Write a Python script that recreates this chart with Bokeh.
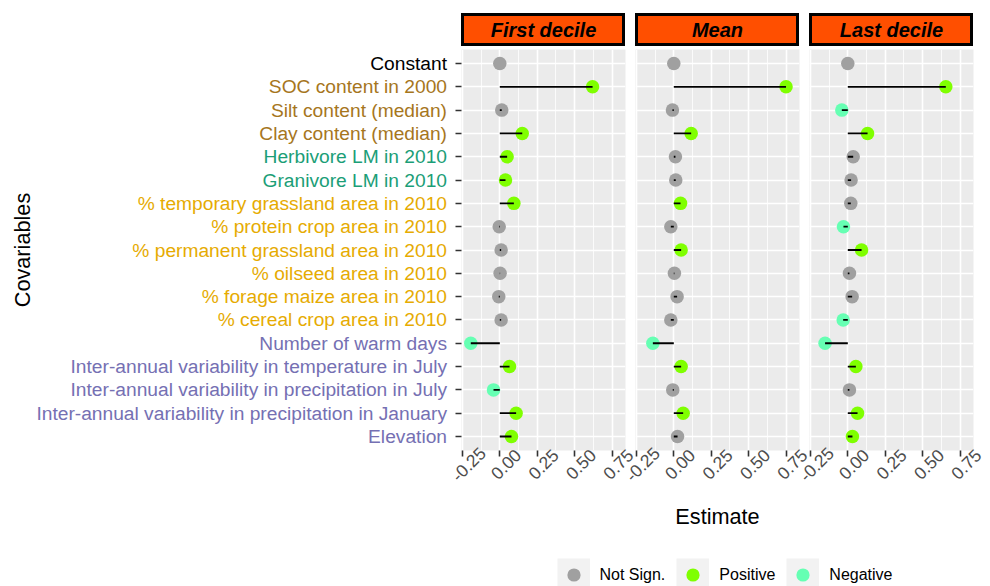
from math import pi
from bokeh.plotting import figure
from bokeh.models import (ColumnDataSource, FactorRange, Range1d, FixedTicker,
                          Legend, LegendItem, Spacer, CustomJSTickFormatter)
from bokeh.layouts import row, column
from bokeh.transform import factor_cmap
from bokeh.core.properties import value
from bokeh.embed import file_html
from bokeh.resources import INLINE

# ---------------- data ----------------
covariables = [
    "Constant",
    "SOC content in 2000",
    "Silt content (median)",
    "Clay content (median)",
    "Herbivore LM in 2010",
    "Granivore LM in 2010",
    "% temporary grassland area in 2010",
    "% protein crop area in 2010",
    "% permanent grassland area in 2010",
    "% oilseed area in 2010",
    "% forage maize area in 2010",
    "% cereal crop area in 2010",
    "Number of warm days",
    "Inter-annual variability in temperature in July",
    "Inter-annual variability in precipitation in July",
    "Inter-annual variability in precipitation in January",
    "Elevation",
]
label_groups = ["const", "soil", "soil", "soil", "lm", "lm",
                "land", "land", "land", "land", "land", "land",
                "climate", "climate", "climate", "climate", "climate"]
group_colors = {"const": "#000000", "soil": "#A6761D", "lm": "#1B9E77",
                "land": "#E6AB02", "climate": "#7570B3"}

panels = ["First decile", "Mean", "Last decile"]

est_first = [0.0, 0.62, 0.013, 0.15, 0.049, 0.038, 0.094, -0.004, 0.009,
             0.002, -0.007, 0.009, -0.194, 0.065, -0.042, 0.109, 0.078]
est_mean = [0.0, 0.75, -0.009, 0.116, 0.011, 0.013, 0.045, -0.02, 0.049,
            0.004, 0.022, -0.02, -0.14, 0.049, -0.007, 0.0625, 0.025]
est_last = [0.0, 0.655, -0.04, 0.132, 0.036, 0.022, 0.02, -0.029, 0.092,
            0.011, 0.029, -0.031, -0.152, 0.054, 0.011, 0.065, 0.031]

sig_first = ["Not Sign.", "Positive", "Not Sign.", "Positive", "Positive", "Positive",
             "Positive", "Not Sign.", "Not Sign.", "Not Sign.", "Not Sign.", "Not Sign.",
             "Negative", "Positive", "Negative", "Positive", "Positive"]
sig_mean = ["Not Sign.", "Positive", "Not Sign.", "Positive", "Not Sign.", "Not Sign.",
            "Positive", "Not Sign.", "Positive", "Not Sign.", "Not Sign.", "Not Sign.",
            "Negative", "Positive", "Not Sign.", "Positive", "Not Sign."]
sig_last = ["Not Sign.", "Positive", "Negative", "Positive", "Not Sign.", "Not Sign.",
            "Not Sign.", "Negative", "Positive", "Not Sign.", "Not Sign.", "Negative",
            "Negative", "Positive", "Not Sign.", "Positive", "Positive"]

sig_levels = ["Not Sign.", "Positive", "Negative"]
sig_colors = ["#A0A0A0", "#7FFF00", "#66FFB3"]

x_ticks = [-0.25, 0.0, 0.25, 0.5, 0.75]
x_tick_labels = ["-0.25", "0.00", "0.25", "0.50", "0.75"]
x_minor = [-0.125, 0.125, 0.375, 0.625]
x_limits = (-0.256, 0.84)

# ---------------- layout constants ----------------
FONT = "Liberation Sans"
PW = 164          # panel frame width
PH = 401          # panel frame height
B1 = 20           # room under frames for the tick marks
ML = 45           # left overflow room of panel canvases
MR = 12
LABW = 461
GAP = 10
H2 = 86           # tick-label / axis-title band
LEGH = 56
PAD = 0.1         # ggplot-like discrete expansion (in category units)

yr = FactorRange(factors=covariables[::-1], range_padding=PAD,
                 range_padding_units="absolute")

tick_src = ColumnDataSource(dict(tick=x_ticks, label=x_tick_labels))


def style_ticks(ax):
    ax.major_tick_out = 6
    ax.major_tick_in = 0
    ax.major_tick_line_color = "#333333"
    ax.major_tick_line_width = 1.6
    ax.minor_tick_line_color = None
    ax.axis_line_color = None
    ax.major_label_standoff = 0


def make_panel(k, est, sig):
    src = ColumnDataSource(dict(cov=covariables, est=est, sig=sig))
    p = figure(width=ML + PW + MR, height=PH + B1,
               x_range=Range1d(*x_limits), y_range=yr,
               output_backend="svg", toolbar_location=None,
               min_border_left=ML, min_border_right=MR, min_border_top=0,
               min_border_bottom=B1, border_fill_color=None,
               outline_line_color=None, background_fill_color="#EBEBEB")
    p.title.visible = False
    xa = p.xaxis[0]
    xa.ticker = FixedTicker(ticks=x_ticks, minor_ticks=x_minor)
    xa.major_label_overrides = {t: "" for t in x_ticks}
    style_ticks(xa)
    ya = p.yaxis[0]
    if k == 0:
        # tick marks only: the coloured names are drawn in the label figure
        ya.formatter = CustomJSTickFormatter(code="return ''")
        style_ticks(ya)
    else:
        ya.visible = False
    p.xgrid.grid_line_color = "white"
    p.xgrid.grid_line_width = 1.6
    p.xgrid.minor_grid_line_color = "white"
    p.xgrid.minor_grid_line_width = 0.8
    p.ygrid.grid_line_color = "white"
    p.ygrid.grid_line_width = 1.6
    p.scatter("est", "cov", source=src, size=13.5, line_color=None,
              fill_color=factor_cmap("sig", sig_colors, sig_levels))
    p.segment(x0=0, y0="cov", x1="est", y1="cov", source=src,
              line_color="black", line_width=1.8)
    return p


def make_tickband(k):
    upp = (x_limits[1] - x_limits[0]) / PW
    t = figure(width=ML + PW + MR, height=H2,
               x_range=Range1d(x_limits[0] - ML * upp, x_limits[1] + MR * upp),
               y_range=Range1d(0, H2),
               output_backend="svg", toolbar_location=None, min_border=0,
               x_axis_location=None, y_axis_location=None,
               outline_line_color=None, border_fill_color=None,
               background_fill_color=None)
    t.title.visible = False
    t.grid.visible = False
    # rotated tick labels, centred on their ticks (ggplot style)
    t.text(x="tick", y=H2 - 19.5, text="label", source=tick_src, angle=pi / 4,
           x_offset=6, text_align="center", text_baseline="middle",
           text_font=value(FONT), text_font_size="17.5px", text_color="#4D4D4D")
    if k == 1:
        t.text(x=[sum(x_limits) / 2], y=[H2 - 71.5], text=["Estimate"],
               text_align="center", text_baseline="middle",
               text_font=value(FONT), text_font_size="21.7px",
               text_color="black")
    return t


def make_strip(k):
    s = figure(width=PW, height=33, x_range=Range1d(0, 1), y_range=Range1d(0, 1),
               output_backend="svg", toolbar_location=None, min_border=0,
               x_axis_location=None, y_axis_location=None,
               background_fill_color="#FF4F00", outline_line_color="black",
               outline_line_width=5, border_fill_color=None)
    s.title.visible = False
    s.grid.visible = False
    s.text(x=[0.5], y=[0.5], text=[panels[k]], text_align="center",
           text_baseline="middle", text_font=value(FONT), text_font_size="20px",
           text_font_style="bold italic", text_color="black")
    return s


# label figure (coloured covariable names)
lf = figure(width=LABW, height=PH + B1, x_range=Range1d(0, LABW), y_range=yr,
            output_backend="svg", toolbar_location=None, min_border=0,
            min_border_bottom=B1,
            x_axis_location=None, y_axis_location=None,
            outline_line_color=None, background_fill_color=None,
            border_fill_color=None)
lf.title.visible = False
lf.grid.visible = False
lsrc = ColumnDataSource(dict(cov=covariables,
                             color=[group_colors[g] for g in label_groups]))
lf.text(x=446.5, y="cov", text="cov", source=lsrc, text_align="right",
        text_baseline="middle", text_font=value(FONT), text_font_size="19.2px",
        text_color="color")
lf.text(x=[22], y=[covariables[8]], text=["Covariables"], angle=pi / 2,
        text_align="center", text_baseline="middle", text_font=value(FONT),
        text_font_size="21.7px", text_color="black")

p1 = make_panel(0, est_first, sig_first)
p2 = make_panel(1, est_mean, sig_mean)
p3 = make_panel(2, est_last, sig_last)
t1, t2, t3 = make_tickband(0), make_tickband(1), make_tickband(2)
for fig_a, fig_b, left in ((p1, t1, -ML), (p2, t2, GAP - MR - ML),
                           (p3, t3, GAP - MR - ML)):
    fig_a.margin = (0, 0, 0, left)
    fig_b.margin = (0, 0, 0, left)

s1, s2, s3 = make_strip(0), make_strip(1), make_strip(2)

# legend figure
lg = figure(width=985, height=LEGH, x_range=Range1d(0, 1), y_range=Range1d(0, 1),
            output_backend="svg", toolbar_location=None, min_border=0,
            x_axis_location=None, y_axis_location=None,
            outline_line_color=None, border_fill_color=None,
            background_fill_color=None)
lg.title.visible = False
lg.grid.visible = False
items = []
for lab, col in zip(sig_levels, sig_colors):
    bg = lg.scatter(x=[0.5], y=[0.5], marker="square", size=13,
                    fill_color="#F2F2F2", line_color="#F2F2F2", line_width=19.8,
                    line_join="miter", visible=False)
    dot = lg.scatter(x=[0.5], y=[0.5], marker="circle", size=13, fill_color=col,
                     line_color=None, visible=False)
    items.append(LegendItem(label=lab, renderers=[bg, dot]))
legend = Legend(items=items, orientation="horizontal",
                location=(556.5, LEGH - 28 - 33),
                glyph_width=33, glyph_height=33, label_standoff=10, spacing=11,
                padding=0, margin=0, border_line_color=None,
                background_fill_alpha=0, inactive_fill_alpha=0,
                label_text_font=FONT,
                label_text_font_size="16px", label_text_color="black")
lg.add_layout(legend)

tick_row = row(Spacer(width=LABW, height=H2), t1, t2, t3)
tick_row.margin = (-(B1 + 6), 0, 0, 0)

layout = column(
    Spacer(width=1, height=13),
    row(Spacer(width=LABW, height=33), s1, Spacer(width=GAP, height=33), s2,
        Spacer(width=GAP, height=33), s3),
    Spacer(width=1, height=3),
    row(lf, p1, p2, p3),
    tick_row,
    lg,
)

open("out.html", "w").write(file_html(layout, INLINE, "Covariables"))
